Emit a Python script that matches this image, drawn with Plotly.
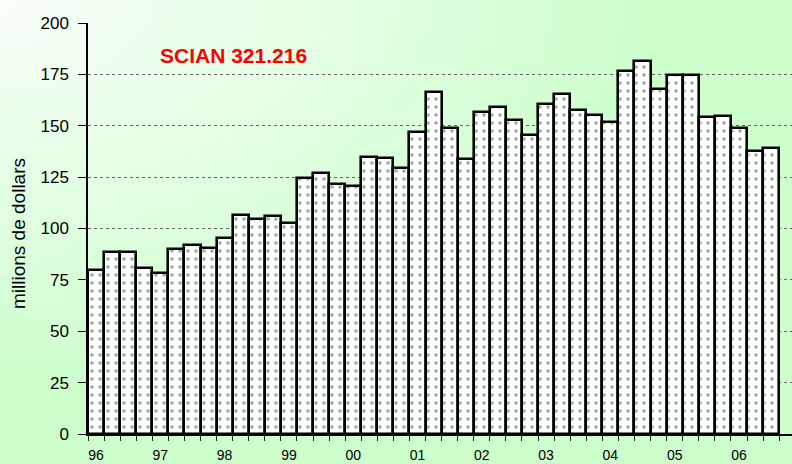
import base64
import struct
import zlib

import numpy as np
import plotly.graph_objects as go

# ---------------- data ----------------
years = ["96", "97", "98", "99", "00", "01", "02", "03", "04", "05", "06"]
quarters = ["T1", "T2", "T3", "T4"]
values = [80.0, 88.7, 88.7, 80.9, 78.2, 90.0, 92.0, 90.7,
          95.2, 106.7, 104.5, 106.1, 102.5, 124.4, 126.8, 121.6,
          120.5, 134.6, 134.1, 129.2, 147.0, 166.3, 149.1, 133.6,
          156.5, 159.3, 152.6, 145.5, 160.8, 165.3, 157.7, 155.4,
          152.0, 176.8, 181.6, 168.1, 174.5, 174.5, 154.5, 154.9,
          149.1, 137.9, 139.0]
categories = [f"{y}-{q}" for y in years for q in quarters][:len(values)]
tick_text = [c.split("-")[0] if c.endswith("T1") else "" for c in categories]
title_text = "SCIAN 321.216"
y_title = "millions de dollars"

# ---------------- background gradient image ----------------
def make_png(arr):
    h, w, _ = arr.shape
    raw = b"".join(b"\x00" + arr[r].tobytes() for r in range(h))

    def chunk(tag, data):
        c = struct.pack(">I", len(data)) + tag + data
        return c + struct.pack(">I", zlib.crc32(tag + data) & 0xFFFFFFFF)

    ihdr = struct.pack(">IIBBBBB", w, h, 8, 2, 0, 0, 0)
    return (b"\x89PNG\r\n\x1a\n" + chunk(b"IHDR", ihdr)
            + chunk(b"IDAT", zlib.compress(raw, 9)) + chunk(b"IEND", b""))

GW, GH = 198, 116
gx = (np.arange(GW) + 0.5) / GW
gy = (np.arange(GH) + 0.5) / GH
X, Y = np.meshgrid(gx, gy)
t = np.clip(np.sqrt(X ** 2 + Y ** 2) / 0.85, 0, 1)
rb = 250 - 46 * t
img = np.zeros((GH, GW, 3), dtype=np.uint8)
img[..., 0] = rb.round().astype(np.uint8)
img[..., 1] = 255
img[..., 2] = rb.round().astype(np.uint8)
bg_src = "data:image/png;base64," + base64.b64encode(make_png(img)).decode()

# ---------------- figure ----------------
W, H = 792, 464
ML, MR, MT, MB = 88, 0, 23, 30
PW, PH = W - ML - MR, H - MT - MB

fig = go.Figure(go.Bar(
    x=categories,
    y=values,
    marker=dict(
        color="white",
        line=dict(color="black", width=2.6),
        pattern=dict(shape=".", fgcolor="#2a6636", bgcolor="white",
                     size=8, solidity=0.16),
    ),
    hoverinfo="x+y",
))

fig.add_layout_image(dict(
    source=bg_src, xref="paper", yref="paper",
    x=-ML / PW, y=1 + MT / PH, sizex=W / PW, sizey=H / PH,
    xanchor="left", yanchor="top", sizing="stretch", layer="below",
))

axis_font = "Liberation Sans, Arial, sans-serif"

fig.update_layout(
    width=W, height=H,
    margin=dict(l=ML, r=MR, t=MT, b=MB, autoexpand=False),
    paper_bgcolor="#ccffcc",
    plot_bgcolor="rgba(0,0,0,0)",
    bargap=0,
    showlegend=False,
    font=dict(family=axis_font, color="black"),
    xaxis=dict(
        type="category",
        categoryorder="array", categoryarray=categories,
        tickmode="array", tickvals=categories, ticktext=tick_text,
        tickson="boundaries",
        ticks="outside", ticklen=5, tickwidth=1, tickcolor="#222",
        showline=True, linecolor="black", linewidth=1.5,
        showgrid=False, zeroline=False,
        range=[-0.5, 43.3],
        tickangle=0,
        automargin=False,
        tickfont=dict(size=14, family=axis_font, color="black"),
        ticklabelstandoff=7,
    ),
    yaxis=dict(
        range=[0, 200], tick0=0, dtick=25,
        ticks="outside", ticklen=8, tickwidth=1, tickcolor="black",
        showline=True, linecolor="black", linewidth=1.5,
        showgrid=True, gridcolor="#666666", gridwidth=1, griddash="dot",
        zeroline=False,
        automargin=False,
        tickfont=dict(size=17, family=axis_font, color="black"),
        ticklabelstandoff=6,
    ),
)

fig.add_annotation(
    text=title_text, xref="paper", yref="paper",
    x=(158 - ML) / PW, y=1 - (55 - MT) / PH,
    xanchor="left", yanchor="middle", showarrow=False,
    font=dict(family="Liberation Sans, Arial, sans-serif", size=21,
              color="#ff0000", weight="bold"),
)

fig.add_annotation(
    text=y_title, xref="paper", yref="paper",
    x=(18 - ML) / PW, y=1 - (234 - MT) / PH,
    xanchor="center", yanchor="middle", textangle=-90, showarrow=False,
    font=dict(family="Liberation Sans, Arial, sans-serif", size=19, color="black"),
)

fig.write_html(
    "out.html",
    config={"displayModeBar": False},
    post_script="document.body.style.margin='0';document.body.style.overflow='hidden';",
)
